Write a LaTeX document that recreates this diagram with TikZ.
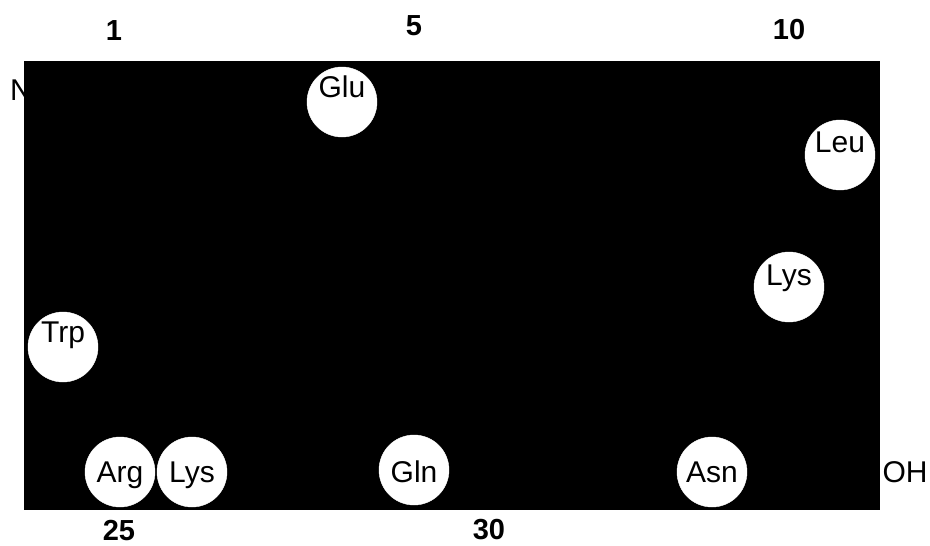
\documentclass[tikz,border=0pt]{standalone}
\usepackage{fontspec}
\setmainfont{Liberation Sans}
\begin{document}
\begin{tikzpicture}[x=1pt,y=-1pt,
  res/.style={circle,fill=white,draw=white,minimum size=70pt,inner sep=0pt},
  lab/.style={inner sep=0pt,anchor=base,font=\fontsize{30}{30}\selectfont},
  num/.style={inner sep=0pt,anchor=base,font=\fontsize{29}{29}\selectfont\bfseries},
  term/.style={inner sep=0pt,font=\fontsize{30}{30}\selectfont}]
\useasboundingbox (0,0) rectangle (930,546);
% N-terminus (partly hidden behind the block)
\node[term,anchor=base west] (nterm) at (10,100) {N};
% black block
\fill[black] (24,61) rectangle (880,510);
% residues
\node[res] (glu) at (342,102) {};
\node[lab] (glut) at (342,97) {Glu};
\node[res] (leu) at (840,155) {};
\node[lab] (leut) at (840,152) {Leu};
\node[res] (lysa) at (789,287) {};
\node[lab] (lysat) at (789,285) {Lys};
\node[res] (trp) at (63,347) {};
\node[lab] (trpt) at (63,342) {Trp};
\node[res] (arg) at (120,472) {};
\node[lab] (argt) at (120,482) {Arg};
\node[res] (lysb) at (192,472) {};
\node[lab] (lysbt) at (192,482) {Lys};
\node[res] (gln) at (414,470) {};
\node[lab] (glnt) at (414,482) {Gln};
\node[res] (asn) at (712,472) {};
\node[lab] (asnt) at (712,482) {Asn};
% C-terminus
\node[term,anchor=base] (cterm) at (905,482) {OH};
% position numbers
\node[num] (n1) at (114,40) {1};
\node[num] (n5) at (414,35) {5};
\node[num] (n10) at (789,39) {10};
\node[num] (n25) at (119,540) {25};
\node[num] (n30) at (489,539) {30};
\end{tikzpicture}
\end{document}
